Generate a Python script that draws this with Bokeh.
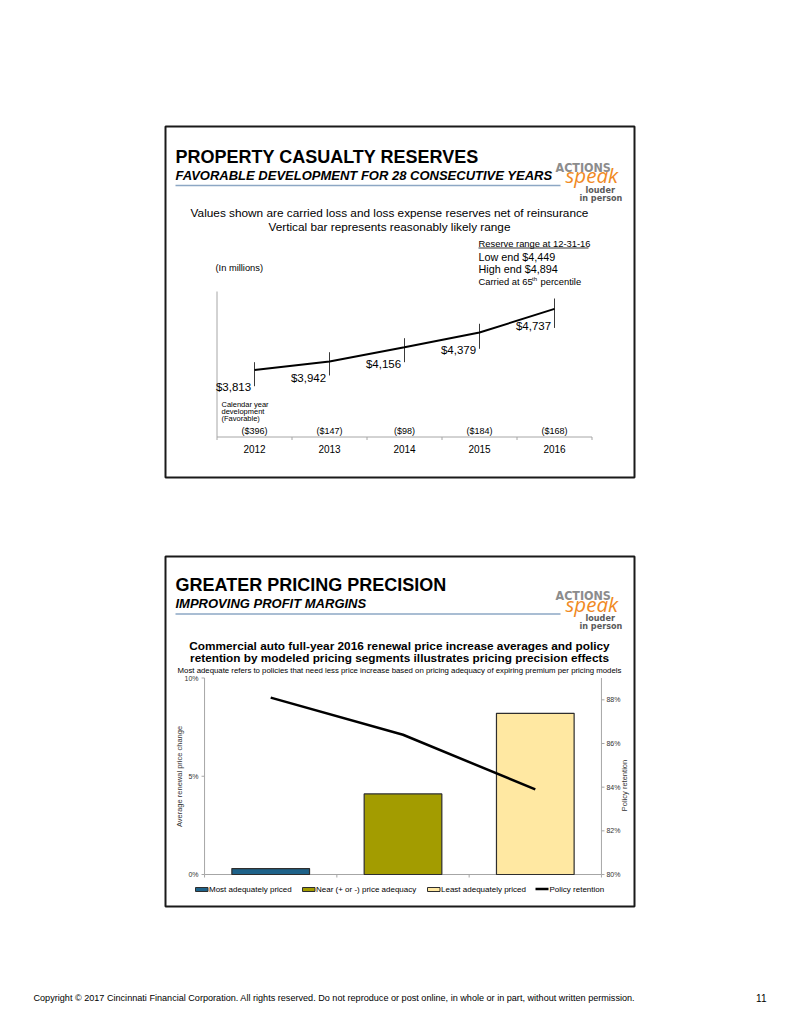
import math
from bokeh.plotting import figure
from bokeh.models import Range1d, ColumnDataSource
from bokeh.core.properties import value
from bokeh.embed import file_html
from bokeh.resources import INLINE

# ---------------- data: top chart (Property casualty reserves, $ millions)
years = [2012, 2013, 2014, 2015, 2016]
year_labels = ["2012", "2013", "2014", "2015", "2016"]
reserves = [3813, 3942, 4156, 4379, 4737]
reserve_labels = ["$3,813", "$3,942", "$4,156", "$4,379", "$4,737"]
range_low = [3568, 3730, 3931, 4134, 4449]
range_high = [3931, 4082, 4294, 4512, 4894]
development = [-396, -147, -98, -184, -168]
dev_labels = ["($%d)" % abs(d) for d in development]
c1_axis = [2800, 5000]

# ---------------- data: bottom chart (commercial auto pricing segments)
segments = ["Most adequately priced", "Near (+ or -) price adequacy", "Least adequately priced"]
seg_x = [0, 1, 2]
price_change = [0.3, 4.1, 8.2]
retention = [88.1, 86.4, 83.9]
seg_colors = ["#1E6289", "#A39C00", "#FFE8A2"]
left_ticks = [0, 5, 10]
left_tick_labels = ["0%", "5%", "10%"]
right_ticks = [80, 82, 84, 86, 88]
right_tick_labels = ["80%", "82%", "84%", "86%", "88%"]
c2_left_axis = [0, 10]
c2_right_axis = [80, 89]

FONT = "Liberation Sans"
NARROW = "Liberation Sans Narrow, DejaVu Sans Condensed, sans-serif"
W, H = 783, 1018
PX0, PY0 = 0, 0  # page offset of the figure (measured)


def map_range(v_a, px_a, v_b, px_b, px_start, px_end):
    k = (v_b - v_a) / (px_b - px_a)
    return Range1d(start=v_a + (px_start - px_a) * k, end=v_a + (px_end - px_a) * k)


p = figure(width=W, height=H, x_range=Range1d(PX0, PX0 + W), y_range=Range1d(PY0 + H, PY0),
           output_backend="svg", toolbar_location=None, min_border=0,
           x_axis_location=None, y_axis_location=None, outline_line_color=None)
p.grid.visible = False
p.background_fill_color = "white"
p.border_fill_color = "white"

XL, XR, YB, YT = PX0, PX0 + W, PY0 + H, PY0
p.extra_x_ranges = {
    "c1x": map_range(2012, 254, 2013, 329, XL, XR),
    "c2x": map_range(0, 270.2, 1, 402.5, XL, XR),
}
p.extra_y_ranges = {
    "c1y": map_range(c1_axis[0], 436.5, c1_axis[1], 291, YB, YT),
    "c2l": map_range(c2_left_axis[0], 874, c2_left_axis[1], 677.5, YB, YT),
    "c2r": map_range(c2_right_axis[0], 874, c2_right_axis[1], 677.5, YB, YT),
}


def T(x, y, s, size, color="black", style="normal", align="left", baseline="middle",
      font=FONT, angle=0.0):
    p.text(x=[x], y=[y], text=[s], text_font=value(font), text_font_size=f"{size}px",
           text_font_style=style, text_color=color, text_align=align,
           text_baseline=baseline, angle=angle)


def header(top, title, subtitle, dy=0.0):
    T(175, top + 31.2 + dy, title, 18, style="bold")
    T(175, top + 49.7 + dy, subtitle, 13, style="bold italic")
    p.segment(x0=[175], y0=[top + 60 + dy], x1=[560], y1=[top + 60 + dy],
              line_color="#8DA7C4", line_width=1.5)
    # logo
    T(555, top + 41.5 + dy, "ACTIONS", 12.4, color="#8C8C8C", style="bold", font=NARROW)
    T(565, top + 49.5 + dy, "speak", 20.5, color="#F08A24", style="italic", font="Open Sans")
    T(585, top + 64 + dy, "louder", 9, color="#5A5A5A", style="bold", font=NARROW)
    T(579, top + 72 + dy, "in person", 9, color="#5A5A5A", style="bold", font=NARROW)


# ================= panel 1 =================
p.quad(left=[165], right=[634], top=[126], bottom=[477], fill_color=None,
       line_color="#1A1A1A", line_width=2)
header(125, "PROPERTY CASUALTY RESERVES", "FAVORABLE DEVELOPMENT FOR 28 CONSECUTIVE YEARS")
T(389, 212.5, "Values shown are carried loss and loss expense reserves net of reinsurance", 11.8,
  align="center")
T(389, 226.5, "Vertical bar represents reasonably likely range", 11.8, align="center")

T(478, 243, "Reserve range at 12-31-16", 9.4)
p.segment(x0=[478], y0=[247.5], x1=[588], y1=[247.5], line_color="black", line_width=0.8)
T(478, 256, "Low end $4,449", 10.8)
T(478, 268.5, "High end $4,894", 10.8)
T(478, 280.5, "Carried at 65", 9.4)
T(531.5, 278, "th", 6)
T(540, 280.5, "percentile", 9.4)
T(215, 267, "(In millions)", 9.3)

src1 = ColumnDataSource(dict(x=years, y=reserves, lo=range_low, hi=range_high,
                             lab=reserve_labels, ylab=year_labels, dev=dev_labels,
                             base=[c1_axis[0]] * len(years)))
kw1 = dict(x_range_name="c1x", y_range_name="c1y")
bounds1 = [y - 0.5 for y in years] + [years[-1] + 0.5]
p.segment(x0=[bounds1[0]], y0=[c1_axis[0]], x1=[bounds1[0]], y1=[c1_axis[1]],
          line_color="#A6A6A6", line_width=1, **kw1)
p.segment(x0=[bounds1[0]], y0=[c1_axis[0]], x1=[bounds1[-1]], y1=[c1_axis[0]],
          line_color="#A6A6A6", line_width=1, **kw1)
p.ray(x=bounds1, y=[c1_axis[0]] * len(bounds1), length=3, length_units="screen",
      angle=-math.pi / 2, line_color="#A6A6A6", line_width=1, **kw1)
p.segment(x0="x", y0="lo", x1="x", y1="hi", source=src1, line_color="#3A3A3A",
          line_width=1, **kw1)
p.line(x="x", y="y", source=src1, line_color="black", line_width=2, **kw1)
p.text(x="x", y="y", text="lab", source=src1, x_offset=-21, y_offset=17,
       text_font=value(FONT), text_font_size="11.5px", text_align="center",
       text_baseline="middle", **kw1)
p.text(x="x", y="base", text="ylab", source=src1, y_offset=11.5,
       text_font=value(FONT), text_font_size="10px", text_align="center",
       text_baseline="middle", **kw1)
p.text(x="x", y="base", text="dev", source=src1, y_offset=-6.5,
       text_font=value(FONT), text_font_size="9px", text_align="center",
       text_baseline="middle", **kw1)
T(221, 403.5, "Calendar year", 7.5)
T(221, 410.5, "development", 7.5)
T(221, 417.5, "(Favorable)", 7.5)

# ================= panel 2 =================
p.quad(left=[165], right=[634], top=[556], bottom=[906], fill_color=None,
       line_color="#1A1A1A", line_width=2)
header(555, "GREATER PRICING PRECISION", "IMPROVING PROFIT MARGINS", dy=-1.5)
T(399, 645, "Commercial auto full-year 2016 renewal price increase averages and policy", 11.8,
  style="bold", align="center")
T(399, 657.5, "retention by modeled pricing segments illustrates pricing precision effects", 11.8,
  style="bold", align="center")
T(399, 669.5, "Most adequate refers to policies that need less price increase based on pricing "
  "adequacy of expiring premium per pricing models", 7.8, align="center")

kwl = dict(x_range_name="c2x", y_range_name="c2l")
kwr = dict(x_range_name="c2x", y_range_name="c2r")
xl, xr = seg_x[0] - 0.5, seg_x[-1] + 0.5
AX = "#A6A6A6"
p.segment(x0=[xl], y0=[c2_left_axis[0]], x1=[xl], y1=[c2_left_axis[1]], line_color=AX, **kwl)
p.segment(x0=[xr], y0=[c2_right_axis[0]], x1=[xr], y1=[c2_right_axis[1]], line_color=AX, **kwr)
p.segment(x0=[xl], y0=[0], x1=[xr], y1=[0], line_color=AX, **kwl)
p.ray(x=[xl] * len(left_ticks), y=left_ticks, length=3, length_units="screen", angle=math.pi,
      line_color=AX, **kwl)
p.ray(x=[xr] * len(right_ticks), y=right_ticks, length=3, length_units="screen", angle=0,
      line_color=AX, **kwr)
bounds2 = [x - 0.5 for x in seg_x] + [seg_x[-1] + 0.5]
p.ray(x=bounds2, y=[0] * len(bounds2), length=3, length_units="screen", angle=-math.pi / 2,
      line_color=AX, **kwl)
p.text(x=[xl] * len(left_ticks), y=left_ticks, text=left_tick_labels, x_offset=-6,
       text_font=value(FONT), text_font_size="7px", text_color="#333333", text_align="right",
       text_baseline="middle", **kwl)
p.text(x=[xr] * len(right_ticks), y=right_ticks, text=right_tick_labels, x_offset=5,
       text_font=value(FONT), text_font_size="7px", text_color="#333333", text_align="left",
       text_baseline="middle", **kwr)
T(179, 776, "Average renewal price change", 7.5, color="#333333", align="center",
  angle=math.pi / 2)
T(624, 785, "Policy retention", 7.5, color="#333333", align="center", angle=math.pi / 2)

src2 = ColumnDataSource(dict(x=seg_x, top=price_change, ret=retention, color=seg_colors))
p.vbar(x="x", top="top", bottom=0, width=0.587, source=src2, fill_color="color",
       line_color="#2E2E2E", line_width=1.2, **kwl)
p.line(x="x", y="ret", source=src2, line_color="black", line_width=2.5, **kwr)

# legend
sw_x = [195, 302, 427]
for sx, col, lab in zip(sw_x, seg_colors, segments):
    p.quad(left=[sx], right=[sx + 12.5], top=[887], bottom=[891], fill_color=col,
           line_color="#2E2E2E", line_width=1)
    T(sx + 13.5, 889, lab, 8)
p.segment(x0=[535], y0=[888.5], x1=[548], y1=[888.5], line_color="black", line_width=2.5)
T(549, 889, "Policy retention", 8)

# footer
T(33, 997, "Copyright \u00a9 2017 Cincinnati Financial Corporation. All rights reserved. Do not "
  "reproduce or post online, in whole or in part, without written permission.", 9.1)
T(766, 997, "11", 10, align="right")

open("out.html", "w").write(file_html(p, INLINE))
